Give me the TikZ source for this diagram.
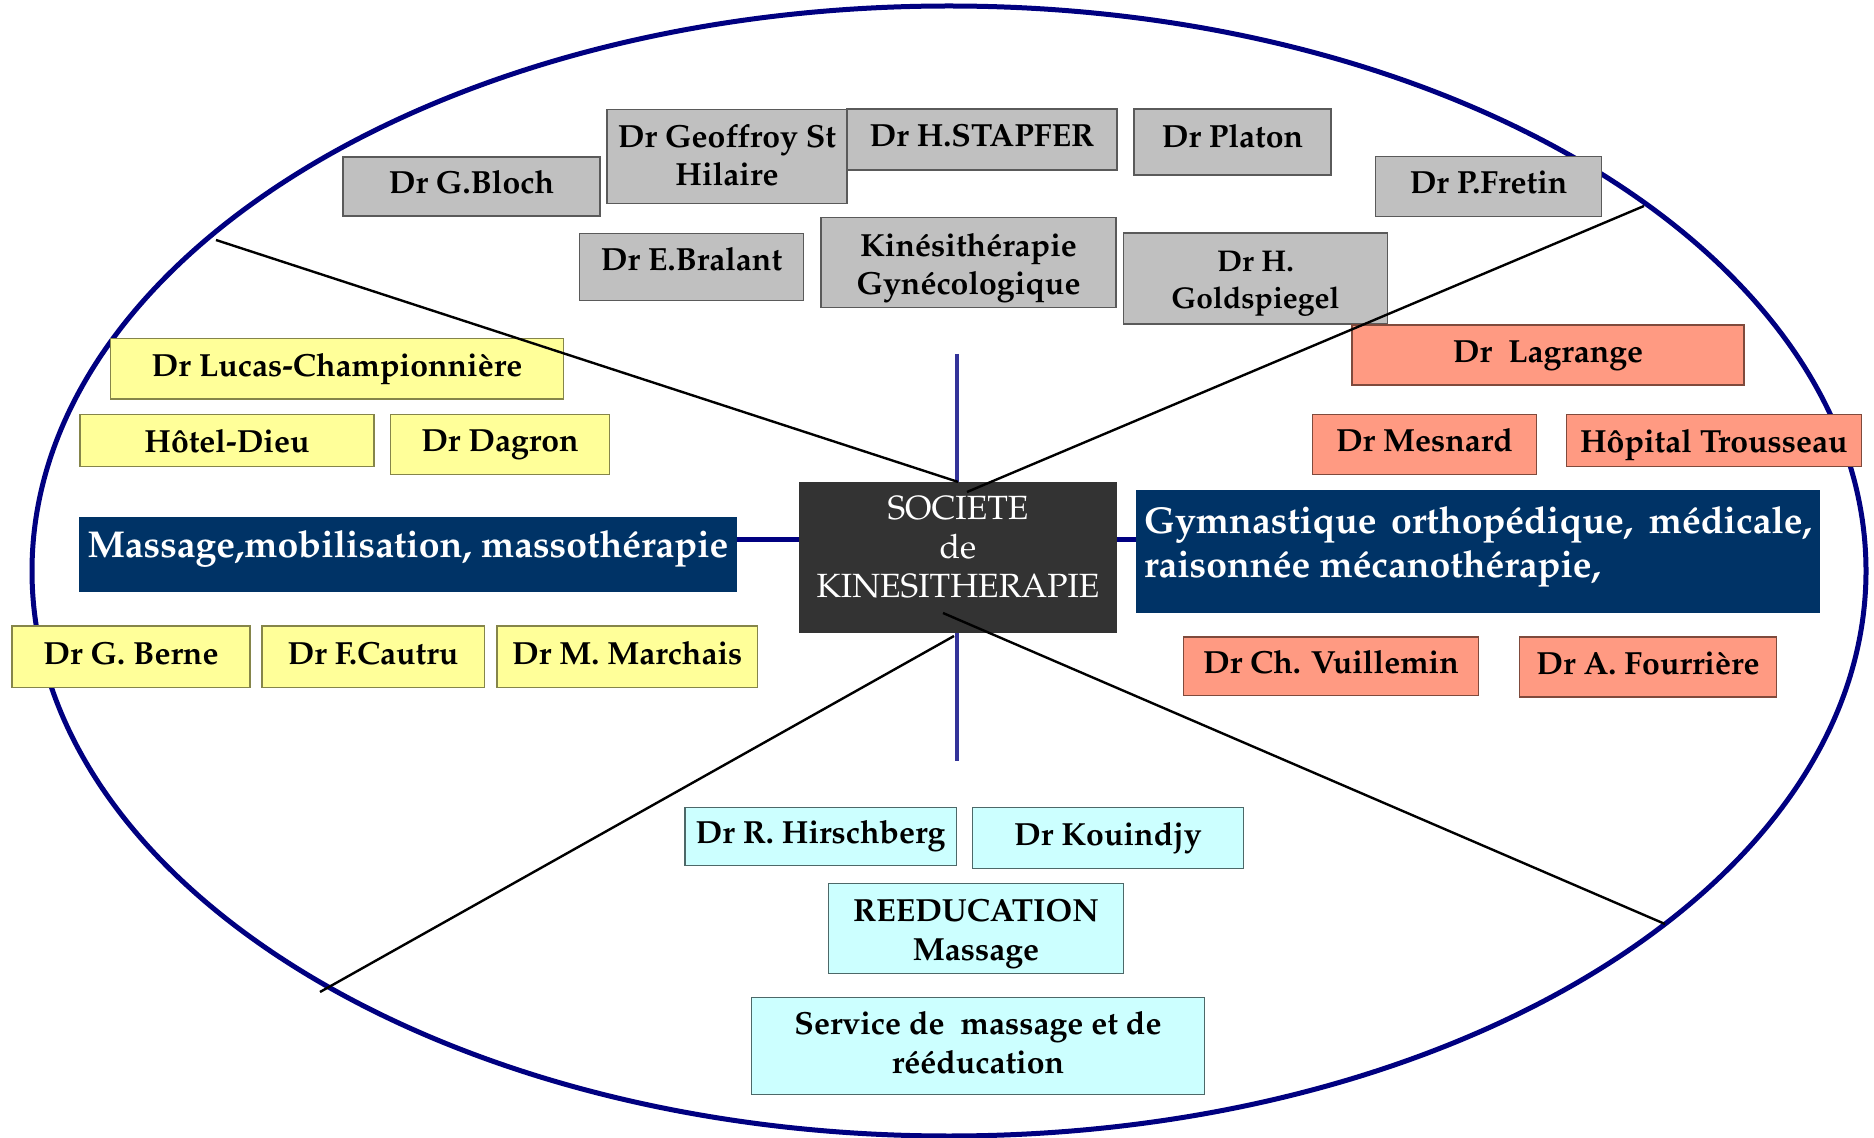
\documentclass[tikz,border=0pt]{standalone}
\usepackage[T1]{fontenc}
\usepackage{mathpazo}
\usetikzlibrary{calc}
\definecolor{gfill}{HTML}{C0C0C0}
\definecolor{gline}{HTML}{5A5A5A}
\definecolor{sfill}{HTML}{FF9A82}
\definecolor{sline}{HTML}{7F4A3C}
\definecolor{yfill}{HTML}{FFFF99}
\definecolor{yline}{HTML}{85854A}
\definecolor{cfill}{HTML}{CCFFFF}
\definecolor{cline}{HTML}{4D6868}
\definecolor{navybox}{HTML}{003366}
\definecolor{darkbox}{HTML}{333333}
\definecolor{ringblue}{HTML}{000080}
\definecolor{axisblue}{HTML}{333399}
\begin{document}
\begin{tikzpicture}[x=0.5pt,y=-0.5pt,
  box/.style={draw, line width=0.7pt, inner sep=0pt, align=center,
    font=\bfseries\fontsize{16}{19.2}\selectfont},
  one/.style={text height=12pt, text depth=4.5pt},
  low/.style={text height=16.8pt, text depth=4.5pt},
  gbox/.style={box, fill=gfill, draw=gline},
  sbox/.style={box, fill=sfill, draw=sline},
  ybox/.style={box, fill=yfill, draw=yline},
  cbox/.style={box, fill=cfill, draw=cline},
  theme/.style={fill=navybox, text=white, inner sep=0pt,
    font=\bfseries\fontsize{18.7}{21.8}\selectfont},
  spoke/.style={draw=black, line width=1.2pt},
]
\useasboundingbox (0,0) rectangle (1874,1138);
\fill[white] (0,0) rectangle (1874,1138);

% outer ring
\draw[ringblue, line width=2.5pt] (949,571) ellipse [x radius=458.5pt, y radius=282.5pt];

% vertical axis behind the central box
\coordinate (vtop) at (957,354);
\coordinate (vbot) at (957,761);
\draw[axisblue, line width=2pt] (vtop) -- (vbot);

% grey group (top)
\node[gbox, one, minimum width=128.5pt, minimum height=29.5pt] (bloch) at (471.5,186.5) {Dr G.Bloch};
\node[gbox, minimum width=120pt, minimum height=47pt] (geoffroy) at (727,156.5) {Dr Geoffroy St\\Hilaire\\[-17.4pt]};
\node[gbox, one, minimum width=135pt, minimum height=30.5pt] (stapfer) at (982,139.5) {Dr H.STAPFER};
\node[gbox, one, text depth=6.9pt, minimum width=98.5pt, minimum height=33pt] (platon) at (1232.5,142) {Dr Platon};
\node[gbox, one, minimum width=113pt, minimum height=30pt] (fretin) at (1488.6,186.5) {Dr P.Fretin};
\node[gbox, one, text depth=8.1pt, minimum width=112pt, minimum height=33.5pt] (bralant) at (691.5,267) {Dr E.Bralant};
\node[gbox, minimum width=147.5pt, minimum height=45pt] (gyneco) at (968.5,262.5) {Kin\'esith\'erapie\\Gyn\'ecologique\\[-20.4pt]};
\node[gbox, minimum width=132pt, minimum height=45.5pt,
  font=\bfseries\fontsize{15}{18.5}\selectfont] (goldspiegel) at (1255.5,278.5) {Dr H.\\Goldspiegel\\[-19.7pt]};

% salmon group (right)
\node[sbox, one, minimum width=196pt, minimum height=30pt] (lagrange) at (1548,355) {Dr\ \ Lagrange};
\node[sbox, one, minimum width=112pt, minimum height=30pt] (mesnard) at (1424.5,444.3) {Dr Mesnard};
\node[sbox, low, minimum width=147.5pt, minimum height=26.2pt] (trousseau) at (1713.8,440.5) {H\^opital Trousseau};
\node[sbox, one, minimum width=147.5pt, minimum height=29.3pt] (vuillemin) at (1331,666.3) {Dr Ch. Vuillemin};
\node[sbox, one, minimum width=128.5pt, minimum height=30pt] (fourriere) at (1648,667) {Dr A. Fourri\`ere};

% yellow group (left)
\node[ybox, one, minimum width=226.3pt, minimum height=30.2pt] (lucas) at (337,369) {Dr Lucas-Championni\`ere};
\node[ybox, low, minimum width=147pt, minimum height=26.2pt] (hoteldieu) at (227,440.5) {H\^otel-Dieu};
\node[ybox, one, minimum width=109.7pt, minimum height=30pt] (dagron) at (500,444.3) {Dr Dagron};
\node[ybox, one, minimum width=119pt, minimum height=30.6pt] (berne) at (131,656.7) {Dr G. Berne};
\node[ybox, one, minimum width=111.2pt, minimum height=30.6pt] (cautru) at (373,656.7) {Dr F.Cautru};
\node[ybox, one, minimum width=130.3pt, minimum height=30.6pt] (marchais) at (627.3,656.7) {Dr M. Marchais};

% cyan group (bottom)
\node[cbox, one, minimum width=135.7pt, minimum height=29pt] (hirschberg) at (820.5,836.3) {Dr R. Hirschberg};
\node[cbox, one, minimum width=135.7pt, minimum height=30.5pt] (kouindjy) at (1108,838) {Dr Kouindjy};
\node[cbox, minimum width=147.3pt, minimum height=45pt] (reeducation) at (976,928.5) {REEDUCATION\\Massage\\[-20.4pt]};
\node[cbox, minimum width=226.3pt, minimum height=48.5pt] (service) at (978,1046) {Service de\ \ massage et de\\r\'e\'education\\[-15.6pt]};

% themes and centre
\node[theme, text height=13pt, text depth=9.4pt, minimum width=329pt, minimum height=37.3pt] (massage) at (408,554.3) {Massage,mobilisation, massoth\'erapie};
\node[theme, minimum width=342pt, minimum height=61.3pt, text width=334pt, align=justify] (gym) at (1478,551.3)
  {Gymnastique orthop\'edique, m\'edicale,\linebreak raisonn\'ee m\'ecanoth\'erapie,\par\vspace{4.4pt}};
\node[fill=darkbox, text=white, inner sep=0pt, minimum width=159pt, minimum height=75.5pt, align=center,
  font=\fontsize{16.8}{19.5}\selectfont] (centre) at (958,557.8) {SOCIETE\\de\\KINESITHERAPIE\\[-8.8pt]};

% horizontal axis
\coordinate (hl) at (958,540);
\draw[ringblue, line width=2.5pt] (massage.east |- hl) -- (centre.west |- hl);
\draw[ringblue, line width=2.5pt] (centre.east |- hl) -- (gym.west |- hl);

% sector spokes
\coordinate (e1) at (216,240);
\coordinate (e2) at (1644,206);
\coordinate (e3) at (320,992);
\coordinate (e4) at (1665,924);
\coordinate (c2) at (967,492);
\coordinate (c3) at (954,636);
\coordinate (c4) at (943,613);
\draw[spoke] (e1) -- (centre.north);
\draw[spoke] (e2) -- (c2);
\draw[spoke] (c3) -- (e3);
\draw[spoke] (c4) -- (e4);
\end{tikzpicture}
\end{document}
